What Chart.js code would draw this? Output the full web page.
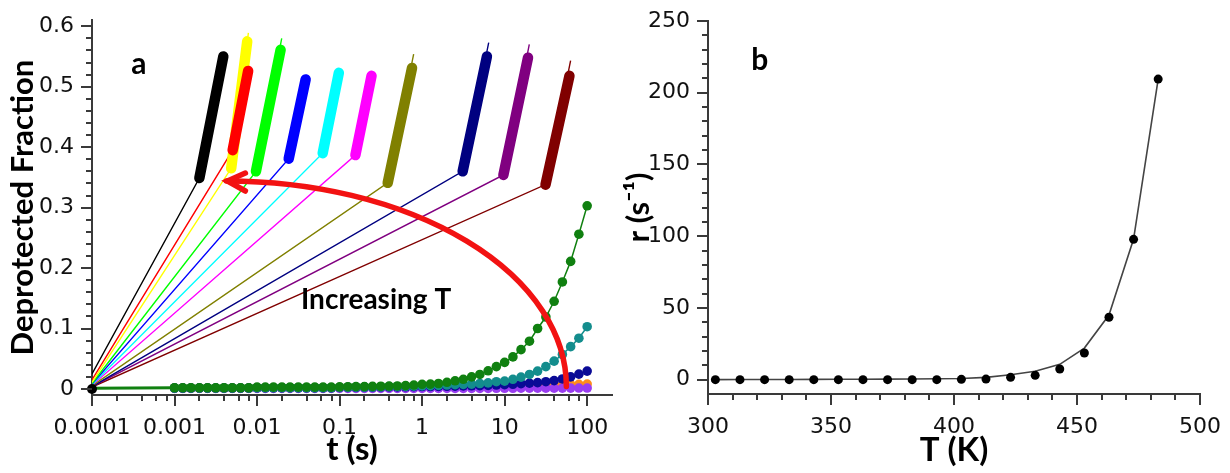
<!DOCTYPE html>
<html lang="en">
<head>
<meta charset="UTF-8" />
<title>Deprotection kinetics</title>
<script src="https://cdn.jsdelivr.net/npm/chart.js"></script>
<style>
  body { margin: 0; background: #fff; width: 1230px; height: 473px; overflow: hidden; position: relative; }
  .panel { position: absolute; top: 0; height: 473px; }
  #panelA { left: 0; width: 620px; }
  #panelB { left: 620px; width: 610px; }
</style>
</head>
<body>
<div class="panel" id="panelA"><canvas id="chartA" width="620" height="473"></canvas></div>
<div class="panel" id="panelB"><canvas id="chartB" width="610" height="473"></canvas></div>
<script>
// ---------- panel a: deprotected fraction vs time ----------

// time points (s) of the traces near the baseline
const tPoints = [
  0.001, 0.00126, 0.00158, 0.002, 0.00251, 0.00316, 0.00398, 0.00501, 0.00631, 0.00794,
  0.01, 0.0126, 0.0158, 0.02, 0.0251, 0.0316, 0.0398, 0.0501, 0.0631, 0.0794,
  0.1, 0.126, 0.158, 0.2, 0.251, 0.316, 0.398, 0.501, 0.631, 0.794,
  1, 1.26, 1.58, 2, 2.51, 3.16, 3.98, 5.01, 6.31, 7.94,
  10, 12.6, 15.8, 20, 25.1, 31.6, 39.8, 50.1, 63.1, 79.4, 100
];
const fracGreen = [
  0.002, 0.002, 0.002, 0.002, 0.002, 0.002, 0.002, 0.002, 0.002, 0.002,
  0.003, 0.003, 0.003, 0.003, 0.003, 0.003, 0.003, 0.003, 0.003, 0.003,
  0.0035, 0.0037, 0.004, 0.004, 0.0042, 0.0045, 0.0048, 0.005, 0.0055, 0.0065,
  0.0077, 0.008, 0.009, 0.011, 0.0135, 0.016, 0.020, 0.024, 0.030, 0.037,
  0.044, 0.053, 0.065, 0.079, 0.100, 0.119, 0.145, 0.177, 0.211, 0.256, 0.303
];
const fracTeal = [
  0.0015, 0.0015, 0.0015, 0.0015, 0.0015, 0.0015, 0.0015, 0.0015, 0.0015, 0.0015,
  0.002, 0.002, 0.002, 0.002, 0.002, 0.002, 0.002, 0.002, 0.002, 0.002,
  0.0025, 0.0027, 0.003, 0.003, 0.0032, 0.0035, 0.0038, 0.004, 0.0043, 0.0047,
  0.005, 0.0055, 0.006, 0.0065, 0.007, 0.0075, 0.008, 0.009, 0.010, 0.012,
  0.013, 0.016, 0.0195, 0.024, 0.0295, 0.037, 0.046, 0.057, 0.070, 0.084, 0.103
];
const fracNavy = [
  0.0015, 0.0015, 0.0015, 0.0015, 0.0015, 0.0015, 0.0015, 0.0015, 0.0015, 0.0015,
  0.002, 0.002, 0.002, 0.002, 0.002, 0.002, 0.002, 0.002, 0.002, 0.002,
  0.0025, 0.0026, 0.0028, 0.003, 0.003, 0.0032, 0.0034, 0.0035, 0.0036, 0.0038,
  0.004, 0.004, 0.0042, 0.0045, 0.0047, 0.005, 0.0052, 0.0055, 0.006, 0.0065,
  0.007, 0.0078, 0.0087, 0.0095, 0.0105, 0.012, 0.0137, 0.0165, 0.020, 0.0245, 0.0295
];
const fracOrange = [
  0.0015, 0.0015, 0.0015, 0.0015, 0.0015, 0.0015, 0.0015, 0.0015, 0.0015, 0.0015,
  0.002, 0.002, 0.002, 0.002, 0.002, 0.002, 0.002, 0.002, 0.002, 0.002,
  0.0022, 0.0022, 0.0022, 0.0022, 0.0022, 0.0024, 0.0025, 0.0026, 0.0027, 0.0028,
  0.003, 0.003, 0.003, 0.0032, 0.0033, 0.0035, 0.0036, 0.0038, 0.004, 0.0042,
  0.0045, 0.0047, 0.005, 0.0053, 0.0056, 0.006, 0.0063, 0.0067, 0.0071, 0.0076, 0.008
];
const fracViolet = [
  0.001, 0.001, 0.001, 0.001, 0.001, 0.001, 0.001, 0.001, 0.001, 0.001,
  0.001, 0.001, 0.001, 0.001, 0.001, 0.001, 0.001, 0.001, 0.001, 0.001,
  0.001, 0.001, 0.001, 0.001, 0.001, 0.001, 0.001, 0.001, 0.001, 0.001,
  0.001, 0.001, 0.001, 0.001, 0.001, 0.001, 0.001, 0.001, 0.001, 0.0011,
  0.0011, 0.0011, 0.0012, 0.0012, 0.0012, 0.0013, 0.0013, 0.0014, 0.0014, 0.0015, 0.0015
];

// fast runs: straight rise from t = 1e-4 up to a dense band of data
const runColors = ['#000000', '#ffff00', '#ff0000', '#00ff00', '#0000ff', '#00ffff',
                   '#ff00ff', '#808000', '#000080', '#800080', '#800000'];
const runStartFrac = [0.025, 0.011, 0.015, 0.009, 0.008, 0.007, 0.006, 0.005, 0.004, 0.004, 0.003];
const bandStartT = [0.0020, 0.00486, 0.00506, 0.0097, 0.0242, 0.0624, 0.1556, 0.383, 3.10, 9.66, 31.3];
const bandStartFrac = [0.349, 0.365, 0.395, 0.360, 0.381, 0.390, 0.387, 0.341, 0.360, 0.354, 0.338];
const bandEndT = [0.0039, 0.0076, 0.0078, 0.0193, 0.0388, 0.098, 0.244, 0.755, 6.10, 19.2, 61.0];
const bandEndFrac = [0.550, 0.575, 0.526, 0.561, 0.512, 0.523, 0.518, 0.531, 0.550, 0.548, 0.518];
const fitTipT = [0.0039, 0.00785, 0.0078, 0.0199, 0.0388, 0.098, 0.244, 0.79, 6.41, 19.9, 63.0];
const fitTipFrac = [0.550, 0.589, 0.526, 0.580, 0.512, 0.523, 0.518, 0.554, 0.573, 0.570, 0.543];

const xMajorA = [0.0001, 0.001, 0.01, 0.1, 1, 10, 100];
const yMajorA = [0, 0.1, 0.2, 0.3, 0.4, 0.5, 0.6];

// ---------- panel b: rate vs temperature ----------
const tempK = [303, 313, 323, 333, 343, 353, 363, 373, 383, 393, 403, 413, 423, 433, 443, 453, 463, 473, 483];
const rateMeasured = [0, 0, 0, 0, 0, 0, 0, 0, 0, 0, 0.2, 0.4, 1.6, 3.0, 7.4, 18.6, 43.5, 97.8, 209.5];
const rateFit = [0.05, 0.07, 0.1, 0.14, 0.2, 0.25, 0.3, 0.4, 0.5, 0.6, 0.8, 1.6, 3.4, 5.8, 10.7, 22, 45, 98, 209.5];

const xMajorB = [300, 350, 400, 450, 500];
const yMajorB = [0, 50, 100, 150, 200, 250];

const axisColor = '#3a3a3a';
const tickFont = { family: 'DejaVu Sans', size: 22 };
const titleFont = { family: 'Lato', size: 31, weight: 'bold' };
const xTitleFont = { family: 'Lato', size: 33, weight: 'bold' };

function minorTicks(from, to, step, majors) {
  const out = [];
  for (let v = from; v <= to + step / 2; v += step) {
    const r = Math.round(v * 1000) / 1000;
    if (!majors.some(m => Math.abs(m - r) < 1e-9)) out.push(r);
  }
  return out;
}
function logMinorTicks(majors) {
  const out = [];
  majors.slice(0, -1).forEach(d => [2, 4, 6, 8].forEach(m => out.push(d * m)));
  return out;
}

// tick marks drawn outward from the axis lines, long for labelled values
const tickMarks = {
  id: 'tickMarks',
  afterDraw(chart, args, opts) {
    const { ctx, chartArea } = chart;
    const xs = chart.scales.x, ys = chart.scales.y;
    ctx.save();
    ctx.strokeStyle = opts.color;
    ctx.lineWidth = 2;
    ctx.beginPath();
    const xMarks = (vals, len) => vals.forEach(v => {
      const p = Math.round(xs.getPixelForValue(v));
      ctx.moveTo(p, chartArea.bottom);
      ctx.lineTo(p, chartArea.bottom + len);
    });
    const yMarks = (vals, len) => vals.forEach(v => {
      const p = Math.round(ys.getPixelForValue(v));
      ctx.moveTo(chartArea.left, p);
      ctx.lineTo(chartArea.left - len, p);
    });
    xMarks(opts.xMajor, 11); xMarks(opts.xMinor, 6);
    yMarks(opts.yMajor, 11); yMarks(opts.yMinor, 6);
    ctx.stroke();
    ctx.restore();
  }
};

// text labels and the curved arrow, placed in data coordinates
const panelNotes = {
  id: 'panelNotes',
  afterDatasetsDraw(chart, args, opts) {
    const { ctx } = chart;
    const xs = chart.scales.x, ys = chart.scales.y;
    ctx.save();
    ctx.fillStyle = '#000';
    (opts.texts || []).forEach(t => {
      ctx.font = `bold ${t.size}px Lato`;
      ctx.textAlign = 'center';
      ctx.textBaseline = 'alphabetic';
      ctx.fillText(t.text, xs.getPixelForValue(t.x), ys.getPixelForValue(t.y));
    });
    if (opts.arrow) {
      const a = opts.arrow;
      const x0 = xs.getPixelForValue(a.from[0]), y0 = ys.getPixelForValue(a.from[1]);
      const x1 = xs.getPixelForValue(a.to[0]), y1 = ys.getPixelForValue(a.to[1]);
      ctx.strokeStyle = a.color;
      ctx.lineWidth = 5.5;
      ctx.lineCap = 'round';
      ctx.beginPath();
      ctx.ellipse(x1, y0, x0 - x1, y0 - y1, 0, 0, -Math.PI / 2, true);
      ctx.stroke();
      ctx.lineJoin = 'miter';
      ctx.beginPath();
      ctx.moveTo(x1 + 19, y1 - 8);
      ctx.lineTo(x1 + 1, y1);
      ctx.lineTo(x1 + 19, y1 + 10);
      ctx.stroke();
    }
    ctx.restore();
  }
};

function axisBase(extra) {
  return Object.assign({
    grid: { display: true, drawOnChartArea: false, drawTicks: true, tickLength: 11, tickColor: 'rgba(0,0,0,0)' },
    border: { display: true, color: axisColor, width: 2 },
  }, extra);
}

// ---- chart a ----
const datasetsA = [];
runColors.forEach((c, i) => {
  datasetsA.push({
    data: [{ x: 0.0001, y: runStartFrac[i] }, { x: bandStartT[i], y: bandStartFrac[i] }, { x: fitTipT[i], y: fitTipFrac[i] }],
    showLine: true, borderColor: c, borderWidth: 1.4, pointRadius: 0, order: 40
  });
  datasetsA.push({
    data: [{ x: bandStartT[i], y: bandStartFrac[i] }, { x: bandEndT[i], y: bandEndFrac[i] }],
    showLine: true, borderColor: c, borderWidth: 10.5, borderCapStyle: 'round', pointRadius: 0, order: 30 - i
  });
});
const traces = [
  { vals: fracOrange, color: '#ff8c1a', order: 9 },
  { vals: fracViolet, color: '#9a3cf0', order: 8 },
  { vals: fracNavy, color: '#0a0a96', order: 7 },
  { vals: fracTeal, color: '#138d8d', order: 6 },
  { vals: fracGreen, color: '#108010', order: 5 }
];
traces.forEach(s => {
  datasetsA.push({
    data: tPoints.map((t, k) => ({ x: t, y: s.vals[k] })),
    showLine: true, borderColor: s.color, borderWidth: 1.5,
    pointRadius: 4.8, pointBackgroundColor: s.color, pointBorderWidth: 0, order: s.order
  });
});
// baseline of the green trace before the first measurement
datasetsA.push({
  data: [{ x: 0.0001, y: 0.001 }, { x: tPoints[0], y: fracGreen[0] }],
  showLine: true, borderColor: '#108010', borderWidth: 3, pointRadius: 0, order: 4
});
datasetsA.push({
  data: [{ x: 0.0001, y: 0 }], pointRadius: 5, pointBackgroundColor: '#000', pointBorderWidth: 0, clip: false, order: 1
});

new Chart(document.getElementById('chartA'), {
  type: 'scatter',
  data: { datasets: datasetsA },
  options: {
    responsive: false, animation: false, devicePixelRatio: 1,
    layout: { padding: { top: 15, right: 8, left: 0, bottom: 0 } },
    plugins: {
      legend: { display: false }, tooltip: { enabled: false },
      tickMarks: { color: axisColor, xMajor: xMajorA, xMinor: logMinorTicks(xMajorA), yMajor: yMajorA, yMinor: minorTicks(0, 0.6, 0.02, yMajorA) },
      panelNotes: {
        texts: [
          { text: 'a', x: 0.00037, y: 0.521, size: 30 },
          { text: 'Increasing T', x: 0.277, y: 0.132, size: 28 }
        ],
        arrow: { from: [56, 0.004], to: [0.00425, 0.344], color: '#f21212' }
      }
    },
    scales: {
      x: axisBase({
        type: 'logarithmic', min: 0.0001, max: 200,
        afterBuildTicks: s => { s.ticks = xMajorA.map(v => ({ value: v })); },
        afterFit: s => { s.height = 78; },
        ticks: { font: tickFont, color: '#111', padding: 9, autoSkip: false, maxRotation: 0, callback: v => String(v) },
        title: { display: true, text: 't (s)', font: xTitleFont, color: '#000', padding: { bottom: 4, top: 0 } }
      }),
      y: axisBase({
        type: 'linear', min: -0.01, max: 0.61,
        afterBuildTicks: s => { s.ticks = yMajorA.map(v => ({ value: v })); },
        afterFit: s => { s.width = 92; },
        ticks: { font: tickFont, color: '#111', padding: 7, callback: v => String(v) },
        title: { display: true, text: 'Deprotected Fraction', font: titleFont, color: '#000', padding: { top: 4, bottom: 0 } }
      })
    }
  },
  plugins: [tickMarks, panelNotes]
});

// ---- chart b ----
new Chart(document.getElementById('chartB'), {
  type: 'scatter',
  data: {
    datasets: [
      { data: tempK.map((T, k) => ({ x: T, y: rateMeasured[k] })), pointRadius: 4.5, pointBackgroundColor: '#000', pointBorderWidth: 0, order: 1 },
      { data: tempK.map((T, k) => ({ x: T, y: rateFit[k] })), showLine: true, borderColor: '#444', borderWidth: 1.6, pointRadius: 0, order: 2 }
    ]
  },
  options: {
    responsive: false, animation: false, devicePixelRatio: 1,
    layout: { padding: { top: 21, right: 30, left: 0, bottom: 0 } },
    plugins: {
      legend: { display: false }, tooltip: { enabled: false },
      tickMarks: { color: axisColor, xMajor: xMajorB, xMinor: minorTicks(300, 500, 10, xMajorB), yMajor: yMajorB, yMinor: minorTicks(0, 250, 10, yMajorB) },
      panelNotes: { texts: [{ text: 'b', x: 321, y: 216, size: 30 }] }
    },
    scales: {
      x: axisBase({
        type: 'linear', min: 300, max: 500,
        afterBuildTicks: s => { s.ticks = xMajorB.map(v => ({ value: v })); },
        afterFit: s => { s.height = 79; },
        ticks: { font: tickFont, color: '#111', padding: 9, autoSkip: false, maxRotation: 0 },
        title: { display: true, text: 'T (K)', font: xTitleFont, color: '#000', padding: { bottom: 3, top: 0 } }
      }),
      y: axisBase({
        type: 'linear', min: -10, max: 250,
        afterBuildTicks: s => { s.ticks = yMajorB.map(v => ({ value: v })); },
        afterFit: s => { s.width = 88; },
        ticks: { font: tickFont, color: '#111', padding: 7 },
        title: { display: true, text: 'r (s⁻¹)', font: titleFont, color: '#000', padding: { top: 0, bottom: 0 } }
      })
    }
  },
  plugins: [tickMarks, panelNotes]
});
</script>
</body>
</html>
